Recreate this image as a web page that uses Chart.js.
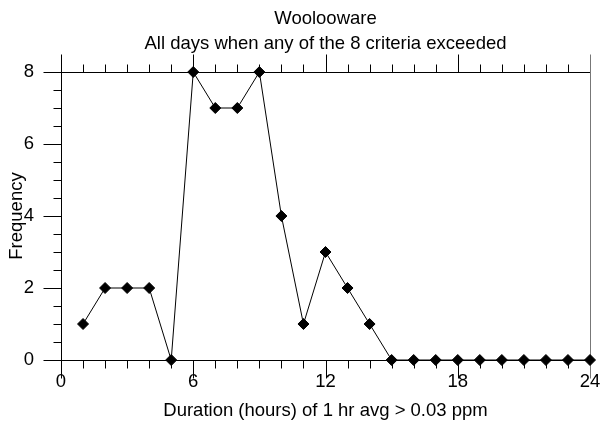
<!DOCTYPE html>
<html>
<head>
<meta charset="utf-8">
<script src="https://cdn.jsdelivr.net/npm/chart.js@4.4.1/dist/chart.umd.min.js"></script>
<style>
  html, body { margin: 0; padding: 0; background: #fff; }
  #wrap { width: 602px; height: 441px; }
</style>
</head>
<body>
<div id="wrap"><canvas id="chart"></canvas></div>
<script>
// durée (heures) et fréquence
const hours = [1, 2, 3, 4, 5, 6, 7, 8, 9, 10, 11, 12, 13, 14, 15, 16, 17, 18, 19, 20, 21, 22, 23, 24];
const frequency = [1, 2, 2, 2, 0, 8, 7, 7, 8, 4, 1, 3, 2, 1, 0, 0, 0, 0, 0, 0, 0, 0, 0, 0];
const xTicks = [0, 6, 12, 18, 24];
const yTicks = [0, 2, 4, 6, 8];
const titleLines = ['Woolooware', 'All days when any of the 8 criteria exceeded'];

const FONT = "'Liberation Sans', Arial, sans-serif";

// cadre + graduations (majeures / mineures) dessinés via les échelles
const frameTicks = {
    id: 'frameTicks',
    beforeDatasetsDraw(chart) {
        const { ctx, chartArea: a, scales: { x, y } } = chart;
        const major = 18, minor = 8;
        ctx.save();
        ctx.lineWidth = 1;
        ctx.strokeStyle = '#000';
        const line = (x1, y1, x2, y2) => {
            ctx.beginPath();
            ctx.moveTo(x1, y1);
            ctx.lineTo(x2, y2);
            ctx.stroke();
        };
        const top = Math.round(a.top) + 0.5;
        const bottom = Math.round(a.bottom) + 0.5;
        const left = Math.round(a.left) + 0.5;
        const right = Math.round(a.right) + 0.5;

        line(left - major, top, right, top);
        line(left - major, bottom, right, bottom);
        line(left, top - major, left, bottom + major);

        for (let v = 1; v < 24; v++) {
            const px = Math.round(x.getPixelForValue(v)) + 0.5;
            const len = xTicks.includes(v) ? major : minor;
            line(px, bottom, px, bottom + len);
            line(px, top, px, top - len);
        }
        for (let v = 0.5; v < 8; v += 0.5) {
            const py = Math.round(y.getPixelForValue(v)) + 0.5;
            const len = yTicks.includes(v) ? major : minor;
            line(left - len, py, left, py);
        }
        ctx.strokeStyle = '#777';
        line(right, top - major, right, bottom + major);
        ctx.restore();
    }
};

new Chart(document.getElementById('chart'), {
    type: 'line',
    data: {
        datasets: [{
            data: hours.map((h, i) => ({ x: h, y: frequency[i] })),
            borderColor: '#000',
            borderWidth: 1,
            backgroundColor: '#000',
            pointStyle: 'rectRot',
            pointRadius: 5.5,
            pointBorderWidth: 1,
            pointBorderColor: '#000',
            pointBackgroundColor: '#000',
            tension: 0,
            clip: false
        }]
    },
    options: {
        responsive: true,
        maintainAspectRatio: false,
        animation: false,
        events: [],
        layout: { padding: { left: 0, right: 12, top: 0, bottom: 0 } },
        plugins: {
            legend: { display: false },
            tooltip: { enabled: false },
            title: {
                display: true,
                text: titleLines,
                fullSize: false,
                color: '#000',
                font: { family: FONT, size: 18.5, weight: 'normal', lineHeight: '25px' },
                padding: { top: 6, bottom: 16 }
            }
        },
        scales: {
            x: {
                type: 'linear',
                min: 0,
                max: 24,
                afterFit: s => { s.height = 81; s.paddingLeft = 0; s.paddingRight = 0; },
                afterBuildTicks: s => { s.ticks = xTicks.map(v => ({ value: v })); },
                ticks: { color: '#000', font: { family: FONT, size: 18.5 }, padding: 11, maxRotation: 0 },
                grid: { display: false, drawTicks: false },
                border: { display: false },
                title: {
                    display: true,
                    text: 'Duration (hours) of 1 hr avg > 0.03 ppm',
                    color: '#000',
                    font: { family: FONT, size: 18.5 },
                    padding: { top: 0, bottom: 19 }
                }
            },
            y: {
                min: 0,
                max: 8,
                afterFit: s => { s.width = 61; s.paddingTop = 0; s.paddingBottom = 0; },
                afterBuildTicks: s => { s.ticks = yTicks.map(v => ({ value: v })); },
                ticks: { color: '#000', font: { family: FONT, size: 18.5 }, padding: 27 },
                grid: { display: false, drawTicks: false },
                border: { display: false },
                title: {
                    display: true,
                    text: 'Frequency',
                    color: '#000',
                    font: { family: FONT, size: 18.5 },
                    padding: { top: 6, bottom: 0 }
                }
            }
        }
    },
    plugins: [frameTicks]
});
</script>
</body>
</html>
